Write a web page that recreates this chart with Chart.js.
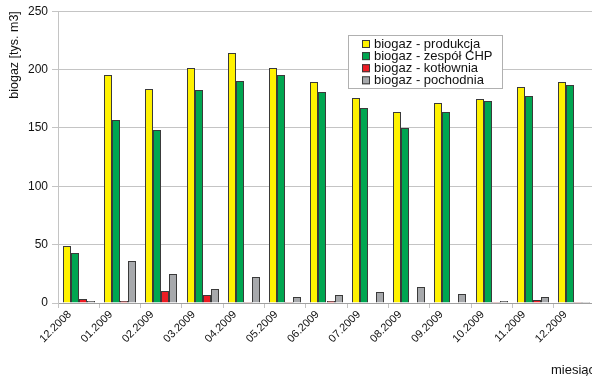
<!DOCTYPE html>
<html>
<head>
<meta charset="utf-8">
<script src="https://cdn.jsdelivr.net/npm/chart.js@4/dist/chart.umd.min.js"></script>
<style>
  html, body { margin: 0; padding: 0; background: #fff; overflow: hidden; }
</style>
</head>
<body>
<canvas id="biogaz" width="600" height="376"></canvas>
<script>
'use strict';

// miesiące i ilości biogazu [tys. m3]
var months = ['12.2008', '01.2009', '02.2009', '03.2009', '04.2009', '05.2009', '06.2009',
  '07.2009', '08.2009', '09.2009', '10.2009', '11.2009', '12.2009'];
var produkcja = [49, 195, 183, 201, 214, 201, 189.5, 176, 164, 171, 175, 185, 189.5];
var zespolCHP = [42.5, 157, 148, 182.5, 190, 195, 180.5, 167, 150, 163.5, 173, 177, 187];
var kotlownia = [3.5, 1.5, 10, 7, 1, 0.5, 2, 0, 0, 0, 0.3, 2.5, 1];
var pochodnia = [2, 36, 25, 12, 22.5, 5.5, 7, 9, 14, 8, 1.5, 5, 0.5];
var yTicks = [0, 50, 100, 150, 200, 250];

var chartColors = {
  yellow: '#fff200',
  green: '#00a651',
  red: '#ed1c24',
  grey: '#a7a9ac',
  edge: '#3a3a3a',
  grid: '#c4c4c4',
  text: '#111'
};

var font = 'Liberation Sans, Arial, sans-serif';

// słupki wyrównane do pełnych pikseli, żeby obramowanie było ostre
var snapBars = {
  id: 'snapBars',
  beforeDatasetsDraw: function (chart) {
    chart.getSortedVisibleDatasetMetas().forEach(function (meta) {
      meta.data.forEach(function (bar) {
        var w = Math.round(bar.width);
        var left = Math.round(bar.x - bar.width / 2);
        bar.width = w;
        bar.x = left + w / 2;
        bar.y = Math.round(bar.y);
      });
    });
  }
};

// legenda w ramce wewnątrz obszaru wykresu
var boxLegend = {
  id: 'boxLegend',
  afterDatasetsDraw: function (chart) {
    var ctx = chart.ctx;
    var x = 348, y = 35, w = 154, h = 53;
    ctx.save();
    ctx.fillStyle = '#fff';
    ctx.fillRect(x, y, w, h);
    ctx.strokeStyle = '#b0b0b0';
    ctx.lineWidth = 1;
    ctx.strokeRect(x + 0.5, y + 0.5, w, h);
    ctx.font = '13px ' + font;
    ctx.textBaseline = 'middle';
    chart.data.datasets.forEach(function (ds, i) {
      var cy = y + 9 + i * 12.1;
      ctx.fillStyle = ds.backgroundColor;
      ctx.fillRect(362, cy - 4, 8, 8);
      ctx.strokeStyle = chartColors.edge;
      ctx.strokeRect(362.5, cy - 3.5, 7, 7);
      ctx.fillStyle = chartColors.text;
      ctx.fillText(ds.label, 374, cy + 0.5);
    });
    ctx.restore();
  }
};

function series(label, data, color) {
  return {
    label: label,
    data: data,
    backgroundColor: color,
    borderColor: chartColors.edge,
    borderWidth: 1,
    inflateAmount: 0,
    barPercentage: 1,
    categoryPercentage: 0.775
  };
}

var config = {
  type: 'bar',
  data: {
    labels: months,
    datasets: [
      series('biogaz - produkcja', produkcja, chartColors.yellow),
      series('biogaz - zespół CHP', zespolCHP, chartColors.green),
      series('biogaz - kotłownia', kotlownia, chartColors.red),
      series('biogaz - pochodnia', pochodnia, chartColors.grey)
    ]
  },
  plugins: [snapBars, boxLegend],
  options: {
    responsive: false,
    animation: false,
    layout: { padding: { top: 11, right: 5, left: 3, bottom: 0 } },
    plugins: {
      legend: { display: false },
      tooltip: { enabled: false }
    },
    scales: {
      x: {
        grid: { drawOnChartArea: false, drawTicks: true, tickLength: 5, color: chartColors.grid },
        border: { color: '#a0a0a0' },
        ticks: {
          minRotation: 45,
          maxRotation: 45,
          labelOffset: -9,
          color: chartColors.text,
          font: { family: font, size: 11 },
          padding: 0
        },
        title: {
          display: true,
          text: 'miesiąc',
          align: 'end',
          color: chartColors.text,
          font: { family: font, size: 13 },
          padding: { top: 0, bottom: -2 }
        },
        afterFit: function (scale) { scale.height = 73; }
      },
      y: {
        min: 0,
        max: 250,
        afterBuildTicks: function (scale) {
          scale.ticks = yTicks.map(function (v) { return { value: v }; });
        },
        grid: { color: chartColors.grid, tickLength: 6 },
        border: { color: chartColors.grid },
        ticks: {
          color: chartColors.text,
          font: { family: font, size: 12 },
          padding: 4
        },
        title: {
          display: true,
          text: 'biogaz [tys. m3]',
          align: 'end',
          color: chartColors.text,
          font: { family: font, size: 12.5 },
          padding: { top: 4, bottom: 0 }
        },
        afterFit: function (scale) { scale.width = 55; }
      }
    }
  }
};

window.onload = function () {
  var ctx = document.getElementById('biogaz').getContext('2d');
  window.myBar = new Chart(ctx, config);
};
</script>
</body>
</html>
